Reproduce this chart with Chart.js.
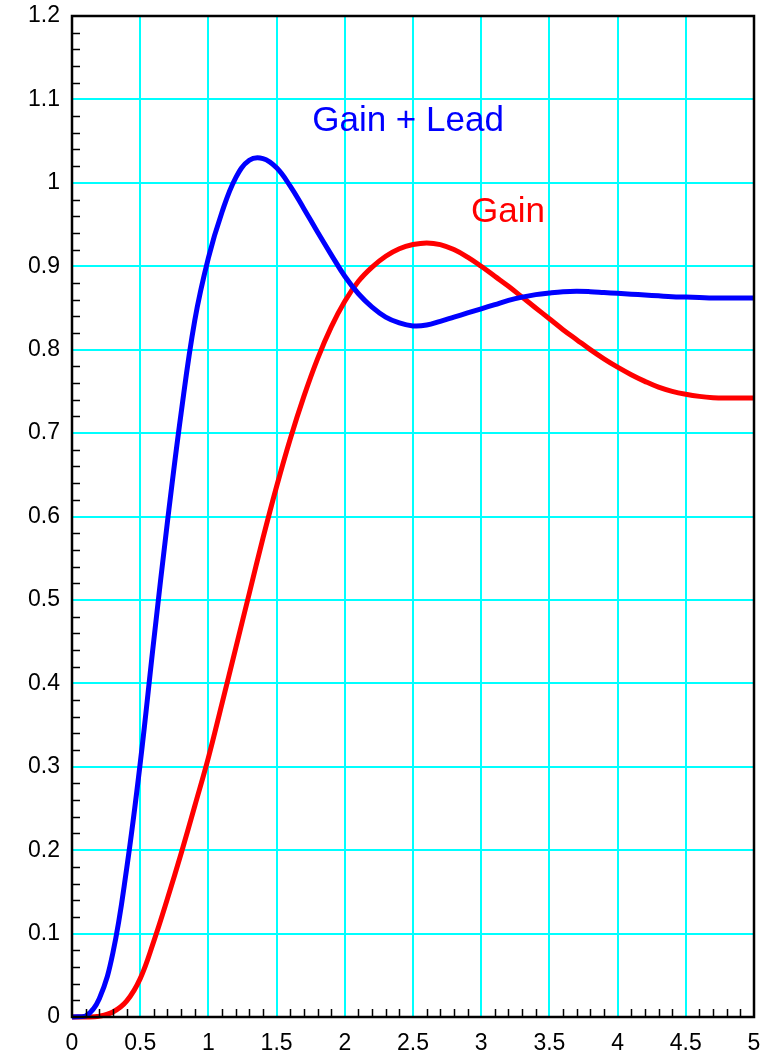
<!DOCTYPE html>
<html>
<head>
<meta charset="utf-8">
<script src="https://cdn.jsdelivr.net/npm/chart.js@4/dist/chart.umd.min.js"></script>
<style>
html,body{margin:0;padding:0;background:#fff;}
#wrap{width:777px;height:1052px;position:relative;}
</style>
</head>
<body>
<div id="wrap"><canvas id="c"></canvas></div>
<script>
// ---- data ----
const timeValues = [0,0.1,0.2,0.3,0.4,0.5,0.6,0.7,0.8,0.9,1.0,1.1,1.2,1.3,1.4,1.5,1.6,1.7,1.8,1.9,2.0,2.1,2.2,2.3,2.4,2.5,2.6,2.7,2.8,2.9,3.0,3.1,3.2,3.3,3.4,3.5,3.6,3.7,3.8,3.9,4.0,4.1,4.2,4.3,4.4,4.5,4.6,4.7,4.8,4.9,5.0];
const gainLeadValues = [0,0.001,0.022,0.077,0.177,0.304,0.452,0.594,0.724,0.835,0.910,0.965,1.006,1.027,1.029,1.018,0.996,0.969,0.941,0.914,0.888,0.867,0.851,0.839,0.832,0.8285,0.8295,0.834,0.839,0.844,0.849,0.854,0.859,0.863,0.866,0.868,0.8695,0.870,0.8695,0.8685,0.8675,0.8665,0.8655,0.8645,0.8635,0.863,0.8625,0.862,0.862,0.862,0.862];
const gainValues = [0,0.0,0.001,0.006,0.019,0.046,0.091,0.142,0.196,0.253,0.311,0.376,0.442,0.508,0.574,0.636,0.693,0.744,0.789,0.827,0.858,0.882,0.899,0.912,0.921,0.926,0.928,0.926,0.920,0.911,0.900,0.888,0.876,0.863,0.850,0.837,0.824,0.812,0.800,0.789,0.779,0.770,0.762,0.755,0.750,0.7465,0.744,0.7425,0.742,0.742,0.742];
const xTickLabels = ["0","0.5","1","1.5","2","2.5","3","3.5","4","4.5","5"];
const yTickLabels = ["0","0.1","0.2","0.3","0.4","0.5","0.6","0.7","0.8","0.9","1","1.1","1.2"];
const seriesNames = ["Gain + Lead","Gain"];
const labelAnchors = [{x:1.761,y:1.0627},{x:2.926,y:0.9536}];

const toPts = (ys) => timeValues.map((t,i)=>({x:t,y:ys[i]}));

const frameAndTicks = {
  id:'frameAndTicks',
  afterDraw(chart){
    const {ctx, chartArea:a, scales:{x,y}} = chart;
    ctx.save();
    ctx.strokeStyle='#000';
    ctx.lineWidth=1.5;
    ctx.beginPath();
    for(let i=0;i<=60;i++){
      if(i%5===0) continue;
      const py=Math.round(y.getPixelForValue(i*0.02))+0.5;
      ctx.moveTo(a.left,py); ctx.lineTo(a.left+8,py);
    }
    for(let i=0;i<=50;i++){
      if(i%5===0) continue;
      const px=Math.round(x.getPixelForValue(i*0.1))+0.5;
      ctx.moveTo(px,a.bottom); ctx.lineTo(px,a.bottom-8);
    }
    ctx.stroke();
    ctx.lineWidth=2.5;
    ctx.strokeRect(a.left,a.top,a.right-a.left,a.bottom-a.top);
    ctx.font='35px "Liberation Sans", Arial, sans-serif';
    ctx.textAlign='left';
    ctx.textBaseline='alphabetic';
    const cols=['#0000ff','#ff0000'];
    labelAnchors.forEach((p,i)=>{
      ctx.fillStyle=cols[i];
      ctx.fillText(seriesNames[i], x.getPixelForValue(p.x), y.getPixelForValue(p.y));
    });
    ctx.restore();
  }
};

new Chart(document.getElementById('c'),{
  type:'scatter',
  data:{datasets:[
    {label:seriesNames[0],data:toPts(gainLeadValues),showLine:true,borderColor:'#0000ff',backgroundColor:'#0000ff',borderWidth:5,pointRadius:0,tension:0.4,clip:false},
    {label:seriesNames[1],data:toPts(gainValues),showLine:true,borderColor:'#ff0000',backgroundColor:'#ff0000',borderWidth:5,pointRadius:0,tension:0.4,clip:false}
  ]},
  options:{
    responsive:true,maintainAspectRatio:false,animation:false,
    layout:{padding:{top:16,right:23,left:0,bottom:0}},
    plugins:{legend:{display:false},tooltip:{enabled:false}},
    scales:{
      x:{type:'linear',min:0,max:5,
        afterFit(s){s.height=35;s.paddingLeft=0;s.paddingRight=0;},
        border:{display:false},
        grid:{color:'#00ffff',lineWidth:2,drawTicks:false},
        ticks:{stepSize:0.5,padding:13,color:'#000',font:{family:'"Liberation Sans", Arial, sans-serif',size:23},
          callback:(v,i)=>xTickLabels[i],maxRotation:0,autoSkip:false}},
      y:{type:'linear',min:0,max:1.2,
        afterFit(s){s.width=72;s.paddingTop=0;s.paddingBottom=0;},
        border:{display:false},
        grid:{color:'#00ffff',lineWidth:2,drawTicks:false},
        ticks:{stepSize:0.1,padding:12,color:'#000',font:{family:'"Liberation Sans", Arial, sans-serif',size:23},
          callback:(v,i)=>yTickLabels[i],autoSkip:false}}
    }
  },
  plugins:[frameAndTicks]
});
</script>
</body>
</html>
